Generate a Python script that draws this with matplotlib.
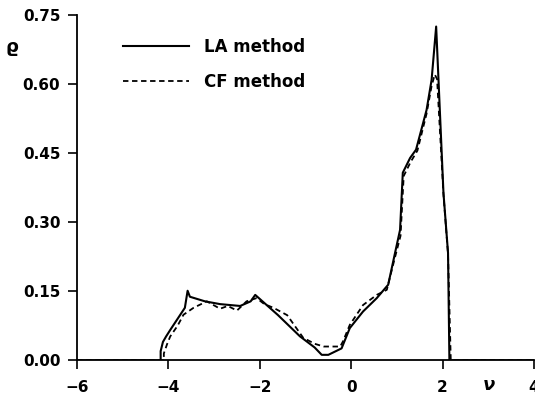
import matplotlib as mpl
mpl.use('Agg')
import matplotlib.pyplot as plt

# density of states
la_nu = [-6.0, -4.17, -4.17, -4.12, -4.05, -3.96, -3.80, -3.64, -3.58, -3.53,
         -3.20, -2.87, -2.43, -2.20, -2.10, -1.60, -1.12, -0.80, -0.645, -0.50,
         -0.21, -0.03, 0.26, 0.56, 0.81, 0.96, 1.07, 1.13, 1.29, 1.42, 1.65,
         1.76, 1.86, 2.02, 2.12, 2.15, 4.0]
la_rho = [0.0, 0.0, 0.02, 0.040, 0.052, 0.066, 0.090, 0.114, 0.151, 0.138,
          0.128, 0.122, 0.118, 0.128, 0.142, 0.098, 0.052, 0.028, 0.012, 0.012,
          0.026, 0.070, 0.106, 0.135, 0.164, 0.233, 0.283, 0.407, 0.439, 0.457,
          0.543, 0.608, 0.724, 0.363, 0.233, 0.0, 0.0]

cf_nu = [-6.0, -4.10, -4.10, -4.03, -3.96, -3.80, -3.67, -3.45, -3.16, -2.87,
         -2.70, -2.50, -2.29, -2.07, -1.90, -1.70, -1.40, -1.05, -0.80, -0.60,
         -0.24, -0.18, -0.03, 0.26, 0.56, 0.78, 0.95, 1.08, 1.15, 1.30, 1.45,
         1.65, 1.76, 1.83, 1.88, 2.02, 2.12, 2.18, 4.0]
cf_rho = [0.0, 0.0, 0.015, 0.035, 0.052, 0.075, 0.099, 0.114, 0.128, 0.112,
          0.118, 0.108, 0.128, 0.135, 0.122, 0.114, 0.098, 0.049, 0.036, 0.030,
          0.030, 0.041, 0.077, 0.120, 0.142, 0.153, 0.220, 0.270, 0.400, 0.430,
          0.455, 0.535, 0.595, 0.620, 0.610, 0.360, 0.230, 0.0, 0.0]

x_ticks = [-6, -4, -2, 0, 2, 4]
y_ticks = [0.00, 0.15, 0.30, 0.45, 0.60, 0.75]

plt.rcParams['font.family'] = ['DejaVu Sans']
plt.rcParams['font.weight'] = 'bold'

fig = plt.figure(figsize=(5.35, 4.04), dpi=100)
ax = fig.add_axes([0.144, 0.108, 0.854, 0.856])

ax.plot(la_nu, la_rho, color='black', lw=1.5, ls='-', label='LA method')
ax.plot(cf_nu, cf_rho, color='black', lw=1.3, ls=(0, (3, 2)), label='CF method')

ax.set_xlim(-6, 4)
ax.set_ylim(0, 0.75)
ax.set_xticks(x_ticks)
ax.set_xticklabels(['\u22126', '\u22124', '\u22122', '0', '2', '4'])
ax.set_yticks(y_ticks)
ax.set_yticklabels(['%.2f' % v for v in y_ticks])
ax.tick_params(direction='out', length=6.5, width=1.2, labelsize=11)
ax.tick_params(axis='y', pad=5.5)
ax.tick_params(axis='x', pad=7.5)
for s in ['top', 'right']:
    ax.spines[s].set_visible(False)
for s in ['left', 'bottom']:
    ax.spines[s].set_linewidth(1.3)

ax.legend(loc='upper left', bbox_to_anchor=(0.085, 0.952), frameon=False,
          handlelength=4.0, handletextpad=0.9, labelspacing=1.05, fontsize=12,
          borderaxespad=0)

fig.text(12 / 535, 1 - 47 / 404, '\u03f1', fontsize=13, ha='center', va='center')
fig.text(489 / 535, 1 - 385 / 404, '\u03bd', fontsize=13, style='italic',
         ha='center', va='center')

fig.savefig('out.png', dpi=100)
